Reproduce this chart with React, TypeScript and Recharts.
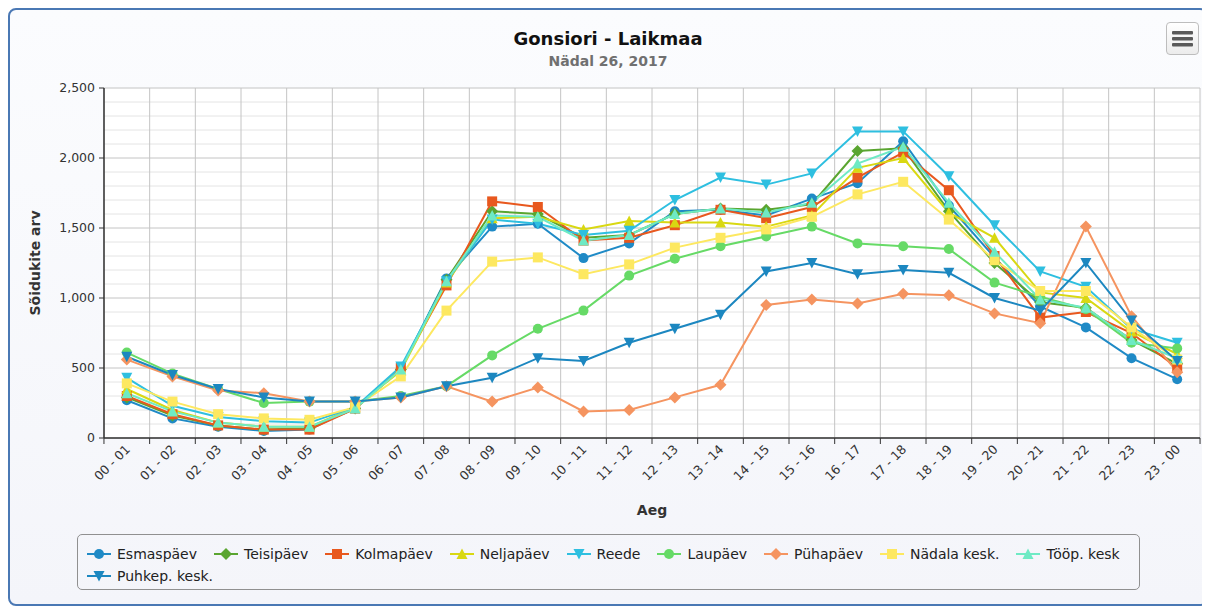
import React from 'react';
import { LineChart, Line, XAxis, YAxis, CartesianGrid, Legend } from 'recharts';

const hours = [
  '00 - 01', '01 - 02', '02 - 03', '03 - 04', '04 - 05', '05 - 06', '06 - 07', '07 - 08',
  '08 - 09', '09 - 10', '10 - 11', '11 - 12', '12 - 13', '13 - 14', '14 - 15', '15 - 16',
  '16 - 17', '17 - 18', '18 - 19', '19 - 20', '20 - 21', '21 - 22', '22 - 23', '23 - 00',
];

const esmaspaev = [270, 140, 80, 50, 60, 220, 490, 1140, 1510, 1530, 1285, 1390, 1620, 1630, 1590, 1710, 1820, 2120, 1660, 1290, 940, 790, 570, 420];
const teisipaev = [290, 160, 90, 60, 70, 210, 490, 1130, 1620, 1600, 1430, 1450, 1600, 1640, 1630, 1670, 2050, 2070, 1620, 1250, 970, 930, 700, 530];
const kolmapaev = [300, 170, 90, 60, 60, 210, 500, 1090, 1690, 1650, 1410, 1430, 1520, 1630, 1570, 1650, 1860, 2040, 1770, 1300, 860, 900, 750, 500];
const neljapaev = [350, 200, 110, 80, 80, 220, 480, 1110, 1570, 1580, 1490, 1550, 1540, 1540, 1510, 1590, 1930, 2000, 1610, 1430, 1040, 1000, 760, 600];
const reede = [430, 230, 150, 120, 110, 220, 510, 1120, 1560, 1530, 1450, 1480, 1700, 1860, 1810, 1890, 2190, 2190, 1870, 1520, 1190, 1080, 780, 680];
const laupaev = [610, 460, 350, 250, 260, 260, 300, 370, 590, 780, 910, 1160, 1280, 1370, 1440, 1510, 1390, 1370, 1350, 1110, 1010, 920, 680, 640];
const puhapaev = [560, 440, 340, 320, 260, 260, 290, 370, 260, 360, 190, 200, 290, 380, 950, 990, 960, 1030, 1020, 890, 820, 1510, 870, 470];
const nadalaKesk = [390, 260, 170, 140, 130, 220, 440, 910, 1260, 1290, 1170, 1240, 1360, 1430, 1490, 1580, 1740, 1830, 1560, 1270, 1050, 1050, 790, 560];
const toopKesk = [320, 190, 110, 80, 80, 210, 490, 1120, 1590, 1580, 1410, 1450, 1600, 1640, 1610, 1680, 1960, 2080, 1680, 1330, 990, 930, 700, 570];
const puhkepKesk = [580, 450, 350, 290, 260, 260, 290, 370, 430, 570, 550, 680, 780, 880, 1190, 1250, 1170, 1200, 1180, 1000, 910, 1250, 840, 550];

const yMax = 2500;
const yTicks = [0, 500, 1000, 1500, 2000, 2500];
const yMinorTicks = [100, 200, 300, 400, 600, 700, 800, 900, 1100, 1200, 1300, 1400, 1600, 1700, 1800, 1900, 2100, 2200, 2300, 2400];

const TITLE = 'Gonsiori - Laikmaa';
const SUBTITLE = 'Nädal 26, 2017';
const Y_TITLE = 'Sõidukite arv';
const X_TITLE = 'Aeg';

type Shape = 'circle' | 'diamond' | 'square' | 'triangle' | 'triangle-down';

const series: { key: string; name: string; color: string; shape: Shape; values: number[] }[] = [
  { key: 'esmaspaev', name: 'Esmaspäev', color: '#1f8ac6', shape: 'circle', values: esmaspaev },
  { key: 'teisipaev', name: 'Teisipäev', color: '#5aa530', shape: 'diamond', values: teisipaev },
  { key: 'kolmapaev', name: 'Kolmapäev', color: '#e8581e', shape: 'square', values: kolmapaev },
  { key: 'neljapaev', name: 'Neljapäev', color: '#d9d812', shape: 'triangle', values: neljapaev },
  { key: 'reede', name: 'Reede', color: '#2ebfe0', shape: 'triangle-down', values: reede },
  { key: 'laupaev', name: 'Laupäev', color: '#66da66', shape: 'circle', values: laupaev },
  { key: 'puhapaev', name: 'Pühapäev', color: '#f59460', shape: 'diamond', values: puhapaev },
  { key: 'nadalaKesk', name: 'Nädala kesk.', color: '#fde860', shape: 'square', values: nadalaKesk },
  { key: 'toopKesk', name: 'Tööp. kesk', color: '#6eeac4', shape: 'triangle', values: toopKesk },
  { key: 'puhkepKesk', name: 'Puhkep. kesk.', color: '#1c87c0', shape: 'triangle-down', values: puhkepKesk },
];

const data = hours.map((h, i) => {
  const row: Record<string, string | number> = { hour: h };
  series.forEach((s) => {
    row[s.key] = s.values[i];
  });
  return row;
});

const FONT = '"DejaVu Sans", Verdana, sans-serif';

function Marker({ shape, cx, cy, color }: { shape: Shape; cx: number; cy: number; color: string }) {
  switch (shape) {
    case 'circle':
      return <circle cx={cx} cy={cy} r={5} fill={color} />;
    case 'square':
      return <rect x={cx - 5} y={cy - 5} width={10} height={10} fill={color} />;
    case 'diamond':
      return <path d={`M${cx} ${cy - 6}L${cx + 6} ${cy}L${cx} ${cy + 6}L${cx - 6} ${cy}Z`} fill={color} />;
    case 'triangle':
      return <path d={`M${cx} ${cy - 5.5}L${cx + 5.5} ${cy + 5}L${cx - 5.5} ${cy + 5}Z`} fill={color} />;
    case 'triangle-down':
    default:
      return <path d={`M${cx - 5.5} ${cy - 5}L${cx + 5.5} ${cy - 5}L${cx} ${cy + 5.5}Z`} fill={color} />;
  }
}

const XTick = (props: any) => {
  const { x, y, payload, index, visibleTicksCount, width } = props;
  const count = visibleTicksCount || hours.length;
  const bw = (width || 1096) / count;
  return (
    <g>
      <line x1={x - bw / 2} x2={x - bw / 2} y1={y} y2={y + 6} stroke="#333" strokeWidth={1} />
      {index === count - 1 && (
        <line x1={x + bw / 2} x2={x + bw / 2} y1={y} y2={y + 6} stroke="#333" strokeWidth={1} />
      )}
      <text
        x={0}
        y={0}
        transform={`translate(${x + 4},${y + 12}) rotate(-45)`}
        textAnchor="end"
        fontSize={12.5}
        fontFamily={FONT}
        fill="#333"
      >
        {payload.value}
      </text>
    </g>
  );
};

const LegendContent = () => (
  <div
    style={{
      boxSizing: 'border-box',
      width: 1063,
      height: 56,
      border: '1px solid #909090',
      borderRadius: 5,
      padding: '8px 0 0 9px',
      fontFamily: FONT,
      fontSize: 14,
      color: '#222',
      display: 'flex',
      flexWrap: 'wrap',
      alignContent: 'flex-start',
    }}
  >
    {series.map((s) => (
      <span key={s.key} style={{ display: 'inline-flex', alignItems: 'center', height: 22, marginRight: 17 }}>
        <svg width={24} height={12} style={{ marginRight: 6 }}>
          <line x1={0} x2={24} y1={6} y2={6} stroke={s.color} strokeWidth={2} />
          <Marker shape={s.shape} cx={12} cy={6} color={s.color} />
        </svg>
        <span>{s.name}</span>
      </span>
    ))}
  </div>
);

const YTitle = (props: any) => {
  const vb = props.viewBox || { x: 0, y: 0, width: 94, height: 350 };
  const cx = vb.x + 26;
  const cy = vb.y + vb.height / 2;
  return (
    <text
      x={cx}
      y={cy}
      transform={`rotate(-90, ${cx}, ${cy})`}
      textAnchor="middle"
      dominantBaseline="middle"
      fontSize={14}
      fontWeight="bold"
      fontFamily={FONT}
      fill="#333"
    >
      {Y_TITLE}
    </text>
  );
};

const XTitle = (props: any) => {
  const vb = props.viewBox || { x: 94, y: 428, width: 1096, height: 96 };
  return (
    <text
      x={vb.x + vb.width / 2}
      y={vb.y + 77}
      textAnchor="middle"
      fontSize={14}
      fontWeight="bold"
      fontFamily={FONT}
      fill="#333"
    >
      {X_TITLE}
    </text>
  );
};

const gridY = (offset: any, values: number[]) =>
  values.map((v) => offset.top + offset.height * (1 - v / yMax));

export default function App() {
  return (
    <div
      style={{
        position: 'relative',
        width: 1196,
        height: 594,
        border: '2px solid #4a78b4',
        borderRadius: 8,
        background: 'linear-gradient(#fbfcfe, #f4f5fa)',
        fontFamily: FONT,
      }}
    >
      <div
        style={{
          position: 'absolute',
          top: 17,
          left: 0,
          width: '100%',
          textAlign: 'center',
          fontSize: 18,
          fontWeight: 'bold',
          lineHeight: '24px',
          color: '#111',
        }}
      >
        {TITLE}
      </div>
      <div
        style={{
          position: 'absolute',
          top: 42,
          left: 0,
          width: '100%',
          textAlign: 'center',
          fontSize: 14,
          fontWeight: 'bold',
          lineHeight: '18px',
          color: '#707070',
        }}
      >
        {SUBTITLE}
      </div>
      <div
        style={{
          position: 'absolute',
          top: 12,
          left: 1156,
          width: 33,
          height: 33,
          boxSizing: 'border-box',
          border: '1px solid #bdbdbd',
          borderRadius: 4,
          background: 'linear-gradient(#ffffff, #ececec)',
          zIndex: 2,
        }}
      >
        <svg width={31} height={31}>
          <rect x={5} y={8} width={21} height={3.5} rx={1} fill="#5a5a5a" />
          <rect x={5} y={14} width={21} height={3.5} rx={1} fill="#5a5a5a" />
          <rect x={5} y={20} width={21} height={3.5} rx={1} fill="#5a5a5a" />
        </svg>
      </div>
      <div style={{ position: 'absolute', top: 0, left: 0 }}>
        <LineChart width={1196} height={594} data={data} margin={{ top: 78, right: 6, left: 0, bottom: 14 }}>
          <CartesianGrid
            fill="#ffffff"
            stroke="#e4e4e4"
            vertical={false}
            horizontalCoordinatesGenerator={({ offset }: any) => gridY(offset, yMinorTicks)}
          />
          <CartesianGrid
            stroke="#c4c4c4"
            horizontalCoordinatesGenerator={({ offset }: any) => gridY(offset, yTicks)}
            verticalCoordinatesGenerator={({ offset }: any) =>
              Array.from({ length: hours.length + 1 }, (_, i) => offset.left + (i * offset.width) / hours.length)
            }
          />
          <XAxis
            dataKey="hour"
            interval={0}
            height={96}
            padding={{ left: 22.8, right: 22.8 }}
            tickLine={false}
            tickSize={0}
            tickMargin={0}
            axisLine={{ stroke: '#333', strokeWidth: 1.5 }}
            tick={<XTick />}
            label={<XTitle />}
          />
          <YAxis
            width={94}
            domain={[0, yMax]}
            ticks={yTicks}
            interval={0}
            tickFormatter={(v: number) => v.toLocaleString('en-US')}
            tickSize={5}
            tickMargin={4}
            tick={{ fontSize: 12.5, fill: '#333', fontFamily: FONT }}
            tickLine={{ stroke: '#333' }}
            axisLine={{ stroke: '#333', strokeWidth: 1.5 }}
            label={<YTitle />}
          />
          <Legend
            verticalAlign="bottom"
            content={<LegendContent />}
            wrapperStyle={{ left: 67, width: 1063, bottom: 14 }}
          />
          {series.map((s) => (
            <Line
              key={s.key}
              dataKey={s.key}
              name={s.name}
              stroke={s.color}
              strokeWidth={2}
              isAnimationActive={false}
              activeDot={false}
              dot={(p: any) => (
                <Marker key={`${s.key}-${p.index}`} shape={s.shape} cx={p.cx} cy={p.cy} color={s.color} />
              )}
            />
          ))}
        </LineChart>
      </div>
    </div>
  );
}
